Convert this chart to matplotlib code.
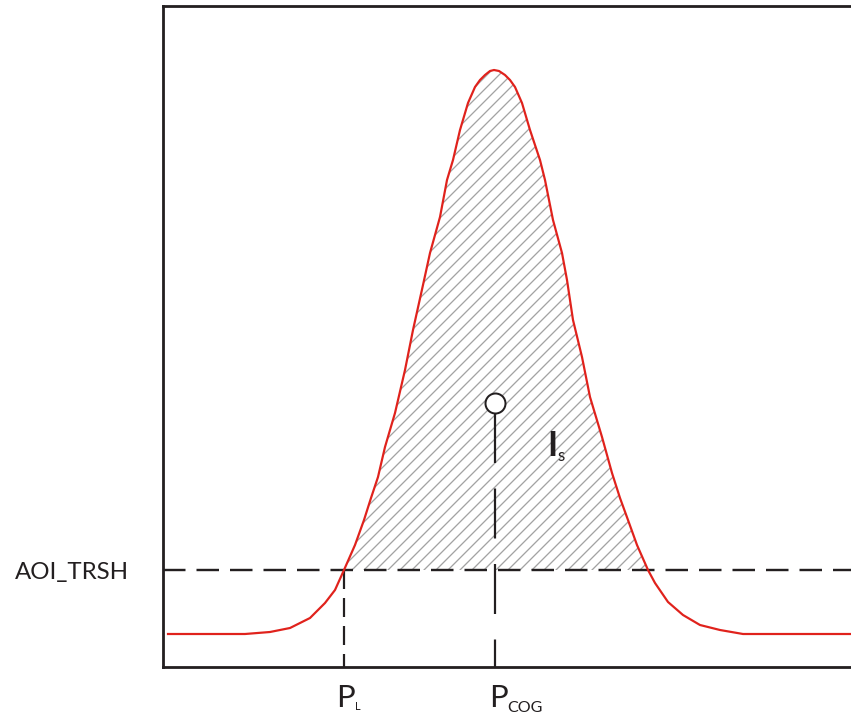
import matplotlib.pyplot as plt
import numpy as np
from matplotlib.collections import LineCollection

# intensity profile along the scan line (position, intensity)
position = [5, 37, 82, 107, 127, 147, 162, 172, 181, 192, 201, 208, 215, 222,
            232, 242, 250, 260, 267, 277, 284, 290, 297, 305, 312, 317, 322,
            327, 331, 336, 342, 347, 352, 359, 367, 377, 382, 390, 399, 404,
            410, 419, 427, 439, 449, 457, 465, 474, 485, 492, 505, 520, 537,
            557, 580, 637, 688]
intensity = [33, 33, 33, 35, 39, 49, 64, 77, 97, 122, 147, 169, 190, 220,
             254, 297, 337, 382, 414, 450, 487, 507, 537, 564, 580, 587, 592,
             596, 597, 596, 592, 587, 580, 564, 537, 507, 487, 447, 414, 387,
             347, 310, 270, 230, 194, 169, 147, 122, 97, 84, 65, 52, 42,
             37, 33, 33, 33]

aoi_trsh = 97      # threshold level
p_l = 181          # left crossing of the threshold
p_cog = 332        # centre of gravity
i_s = 264          # signal level at the centre of gravity

ink = '#231f20'
red = '#e0221c'

plt.rcParams.update({
    "font.family": ["Lato", "DejaVu Sans"],
    "lines.scale_dashes": False,
})

dpi = 72
fig = plt.figure(figsize=(851 / dpi, 715 / dpi), dpi=dpi)
ax = fig.add_axes([163 / 851, 48 / 715, 688 / 851, 661 / 715])
ax.set_xlim(0, 688)
ax.set_ylim(0, 661)
ax.set_xticks([])
ax.set_yticks([])
ax.spines['right'].set_visible(False)
for side in ('left', 'bottom', 'top'):
    ax.spines[side].set_linewidth(2.8)
    ax.spines[side].set_color(ink)

x = np.array(position)
y = np.array(intensity)

# area above the threshold, hatched with thin diagonal lines
area = ax.fill_between(x, y, aoi_trsh, where=y >= aoi_trsh, interpolate=True,
                       facecolor='white', linewidth=0, zorder=1)
offsets = np.arange(-700, 700, 12)
segs = [[(0, -c), (688, 688 - c)] for c in offsets]
hatch = LineCollection(segs, colors='#a3a3a3', linewidths=1.3, zorder=1.5)
ax.add_collection(hatch)
hatch.set_clip_path(area.get_paths()[0], area.get_transform())

ax.plot(x, y, color=red, lw=2.2, zorder=3)

# threshold and marker lines
ax.plot([0, 688], [aoi_trsh, aoi_trsh], color=ink, lw=2.4,
        dashes=(22.5, 11), zorder=2)
ax.plot([p_l, p_l], [aoi_trsh, 0], color=ink, lw=2.2,
        dashes=(19, 9), zorder=2)
ax.plot([p_cog, p_cog], [i_s - 10, 0], color=ink, lw=2.2,
        dashes=(50, 25.5), zorder=2)
ax.plot([p_cog], [i_s], marker='o', ms=20, mfc='white', mec=ink, mew=2,
        zorder=4)

# labels
ax.text(-148, aoi_trsh - 3, "AOI_TRSH", fontsize=24, color=ink,
        ha='left', va='center', clip_on=False)
ax.text(p_l - 8, -40, "P", fontsize=31, color=ink, va='baseline',
        clip_on=False)
ax.text(p_l + 11, -43, "L", fontsize=11, color=ink, va='baseline',
        clip_on=False)
ax.text(p_cog - 6, -40, "P", fontsize=31, color=ink, va='baseline',
        clip_on=False)
ax.text(p_cog + 12, -45, "COG", fontsize=16, color=ink, va='baseline',
        clip_on=False)
ax.text(384, 211, "I", fontsize=34, fontweight='bold', color=ink,
        va='baseline')
ax.text(394, 206, "s", fontsize=17, color=ink, va='baseline')

fig.savefig("out.png", dpi=dpi)
